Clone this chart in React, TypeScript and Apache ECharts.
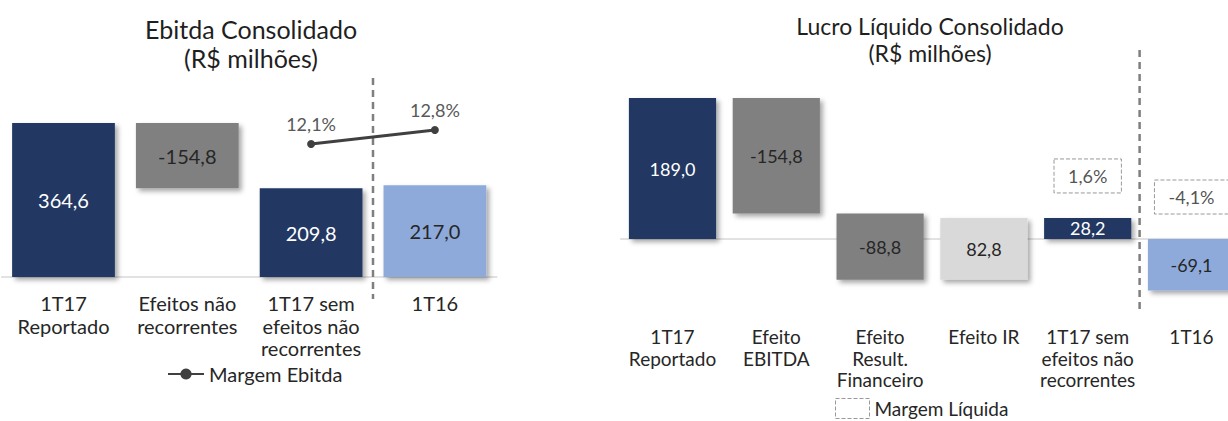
import React, { useEffect, useRef } from 'react';
import * as echarts from 'echarts';

// ---------- data ----------
const ebitdaCategories = ['1T17\nReportado', 'Efeitos não\nrecorrentes', '1T17 sem\nefeitos não\nrecorrentes', '1T16'];
const ebitdaValues = [364.6, -154.8, 209.8, 217.0];
const ebitdaIsTotal = [true, false, true, true];
const ebitdaMargin: (number | null)[] = [null, null, 12.1, 12.8];
const ebitdaSeparatorAfter = 2;

const lucroCategories = ['1T17\nReportado', 'Efeito\nEBITDA', 'Efeito\nResult.\nFinanceiro', 'Efeito IR', '1T17 sem\nefeitos não\nrecorrentes', '1T16'];
const lucroValues = [189.0, -154.8, -88.8, 82.8, 28.2, -69.1];
const lucroIsTotal = [true, false, false, false, true, true];
const lucroMargin: (number | null)[] = [null, null, null, null, 1.6, -4.1];
const lucroSeparatorAfter = 4;

// ---------- styles ----------
const NAVY = '#203864';
const GREY = '#808080';
const LIGHTGREY = '#d9d9d9';
const LIGHTBLUE = '#8eaadb';
const ebitdaColors = [NAVY, GREY, NAVY, LIGHTBLUE];
const lucroColors = [NAVY, GREY, GREY, LIGHTGREY, NAVY, LIGHTBLUE];
const FONT = 'Lato, "Open Sans", sans-serif';

const fmt = (v: number) => v.toFixed(1).replace('.', ',');

function buildWaterfall(values: number[], isTotal: boolean[]) {
  let running = 0;
  return values.map((v, i) => {
    let low: number, high: number;
    if (isTotal[i]) {
      low = Math.min(0, v);
      high = Math.max(0, v);
      running = v;
    } else {
      const next = running + v;
      low = Math.min(running, next);
      high = Math.max(running, next);
      running = next;
    }
    return [i, low, high, v];
  });
}

function waterfallSeries(gridIdx: number, yIdx: number, data: number[][], colors: string[], fontSize: number, ratio: number) {
  return {
    type: 'custom',
    xAxisIndex: gridIdx,
    yAxisIndex: yIdx,
    data,
    encode: { x: 0, y: [1, 2] },
    z: 3,
    renderItem: (params: any, api: any) => {
      const idx = api.value(0);
      const low = api.value(1);
      const high = api.value(2);
      const v = api.value(3);
      const pTop = api.coord([idx, high]);
      const pBot = api.coord([idx, low]);
      const w = api.size([1, 0])[0] * ratio;
      const color = colors[params.dataIndex];
      const textFill = color === NAVY ? '#ffffff' : '#262626';
      return {
        type: 'rect',
        shape: { x: pTop[0] - w / 2, y: pTop[1], width: w, height: pBot[1] - pTop[1] },
        style: {
          fill: color,
          shadowBlur: 5,
          shadowOffsetX: 3,
          shadowOffsetY: 3,
          shadowColor: 'rgba(0,0,0,0.35)',
        },
        textContent: {
          style: { text: fmt(v), fill: textFill, fontSize, fontFamily: FONT },
        },
        textConfig: { position: 'inside' },
      };
    },
  };
}

function separatorSeries(gridIdx: number, yIdx: number, after: number) {
  return {
    type: 'custom',
    xAxisIndex: gridIdx,
    yAxisIndex: yIdx,
    data: [[after, 0]],
    encode: { x: 0, y: 1 },
    z: 5,
    silent: true,
    renderItem: (params: any, api: any) => {
      const x = api.coord([api.value(0), 0])[0] + api.size([1, 0])[0] / 2;
      const cs = params.coordSys;
      return {
        type: 'line',
        shape: { x1: x, y1: cs.y, x2: x, y2: cs.y + cs.height },
        style: { stroke: '#7f7f7f', lineWidth: 2.5, lineDash: [7, 5] },
      };
    },
  };
}

export default function App() {
  const ref = useRef<HTMLDivElement>(null);

  useEffect(() => {
    if (!ref.current) return;
    const chart = echarts.init(ref.current, undefined, { renderer: 'svg' });

    const ebitdaData = buildWaterfall(ebitdaValues, ebitdaIsTotal);
    const lucroData = buildWaterfall(lucroValues, lucroIsTotal);
    const lucroMarginData = lucroMargin
      .map((m, i) => (m == null ? null : { value: [i, lucroData[i][2]], margin: m }))
      .filter((d) => d != null);

    const option: any = {
      animation: false,
      backgroundColor: '#ffffff',
      title: [
        {
          text: 'Ebitda Consolidado\n(R$ milhões)',
          left: 251,
          top: 14,
          padding: 0,
          textAlign: 'center',
          textStyle: { fontSize: 25, fontWeight: 'normal', color: '#1f1f1f', lineHeight: 29, fontFamily: FONT },
        },
        {
          text: 'Lucro Líquido Consolidado\n(R$ milhões)',
          left: 930,
          top: 12,
          padding: 0,
          textAlign: 'center',
          textStyle: { fontSize: 23, fontWeight: 'normal', color: '#1f1f1f', lineHeight: 27, fontFamily: FONT },
        },
      ],
      legend: [
        {
          data: ['Margem Ebitda'],
          left: 167,
          top: 364,
          padding: 0,
          itemWidth: 36,
          itemHeight: 14,
          textStyle: { fontSize: 20, color: '#262626', fontFamily: FONT },
        },
        {
          data: ['Margem Líquida'],
          left: 835,
          top: 398,
          padding: 0,
          icon: 'rect',
          itemWidth: 34,
          itemHeight: 20,
          itemStyle: { color: 'transparent', borderColor: '#7f7f7f', borderWidth: 1, borderType: 'dashed' },
          textStyle: { fontSize: 19, color: '#262626', fontFamily: FONT },
        },
      ],
      grid: [
        { left: 1.6, top: 78, width: 495.2, height: 221, outerBoundsMode: 'none', containLabel: false },
        { left: 620.6, top: 50, width: 622.8, height: 260, outerBoundsMode: 'none', containLabel: false },
      ],
      xAxis: [
        {
          type: 'category',
          gridIndex: 0,
          data: ebitdaCategories,
          axisLine: { onZero: true, lineStyle: { color: '#d9d9d9', width: 1.5 } },
          axisTick: { show: false },
          axisLabel: { interval: 0, margin: -7, fontSize: 20, lineHeight: 22.5, color: '#262626', fontFamily: FONT },
        },
        {
          type: 'category',
          gridIndex: 1,
          data: lucroCategories,
          axisLine: { onZero: true, lineStyle: { color: '#d9d9d9', width: 1.5 } },
          axisTick: { show: false },
          axisLabel: { interval: 0, margin: 16, fontSize: 19, lineHeight: 21.5, color: '#262626', fontFamily: FONT },
        },
      ],
      yAxis: [
        { type: 'value', gridIndex: 0, min: -52.07, max: 471.0, show: false },
        { type: 'value', gridIndex: 0, min: 4.35, max: 15.4, show: false },
        { type: 'value', gridIndex: 1, min: -95.17, max: 253.35, show: false },
      ],
      series: [
        waterfallSeries(0, 0, ebitdaData, ebitdaColors, 20, 0.83),
        separatorSeries(0, 0, ebitdaSeparatorAfter),
        {
          name: 'Margem Ebitda',
          type: 'line',
          xAxisIndex: 0,
          yAxisIndex: 1,
          data: ebitdaMargin,
          z: 6,
          symbol: 'circle',
          symbolSize: 8,
          itemStyle: { color: '#404040' },
          lineStyle: { color: '#404040', width: 3 },
          label: {
            show: true,
            position: 'top',
            distance: 7,
            fontSize: 18,
            color: '#595959',
            fontFamily: FONT,
            formatter: (p: any) => fmt(p.value) + '%',
          },
        },
        waterfallSeries(1, 2, lucroData, lucroColors, 18, 0.84),
        separatorSeries(1, 2, lucroSeparatorAfter),
        {
          name: 'Margem Líquida',
          type: 'scatter',
          xAxisIndex: 1,
          yAxisIndex: 2,
          data: lucroMarginData,
          symbolSize: 0,
          z: 6,
          itemStyle: { color: 'transparent', borderColor: '#7f7f7f', borderWidth: 1, borderType: 'dashed' },
          label: {
            show: true,
            position: 'top',
            distance: 25,
            fontSize: 18,
            color: '#262626',
            fontFamily: FONT,
            padding: [8, 14],
            borderColor: '#7f7f7f',
            borderWidth: 1,
            borderType: 'dashed',
            formatter: (p: any) => fmt(p.data.margin) + '%',
          },
        },
      ],
    };

    chart.setOption(option);
    return () => chart.dispose();
  }, []);

  return (
    <div
      ref={ref}
      style={{ position: 'absolute', left: 0, top: 0, width: 1228, height: 421 }}
    />
  );
}
